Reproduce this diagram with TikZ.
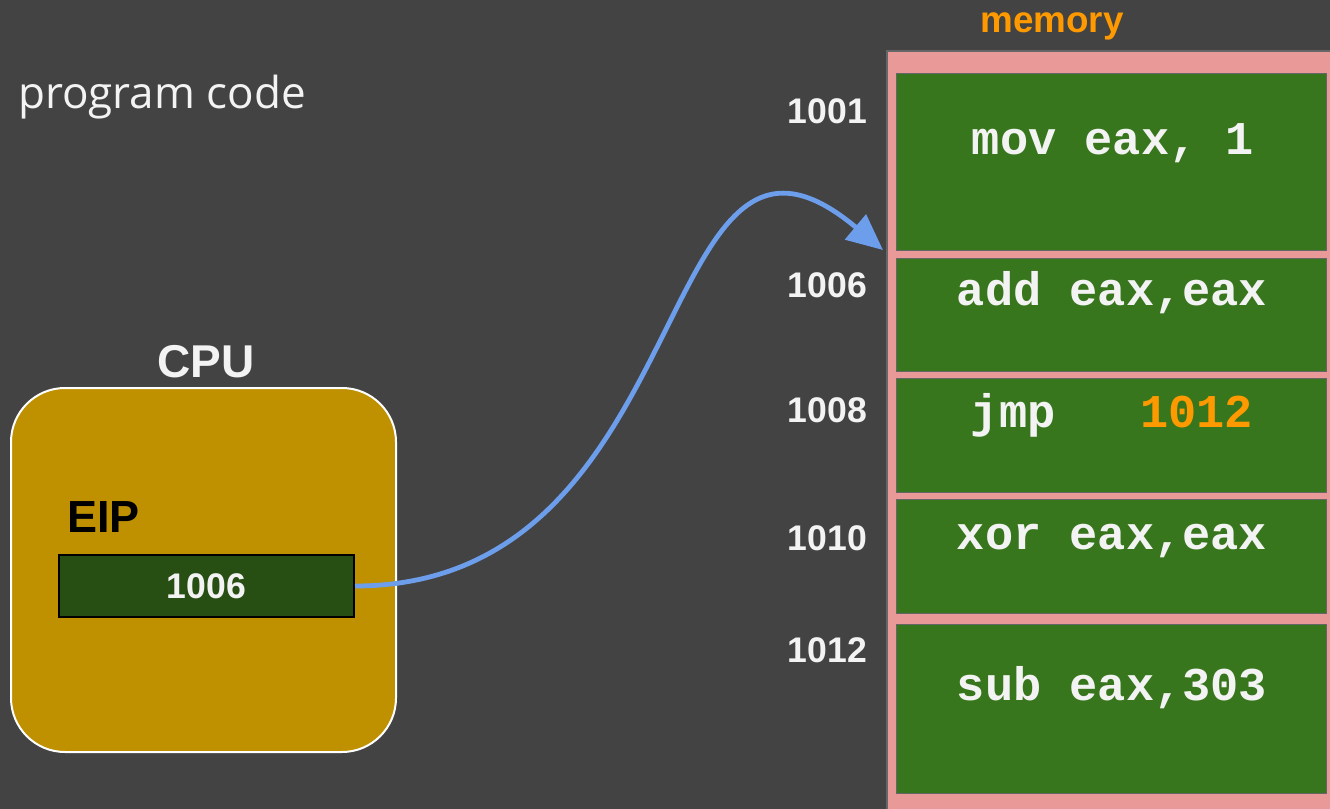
\documentclass[tikz,border=0pt]{standalone}
\usepackage{fontspec}
\setmainfont{Liberation Sans}
\setmonofont{Liberation Mono}
\newfontfamily\handfont{Open Sans}
\usetikzlibrary{arrows.meta}
\definecolor{slidebg}{HTML}{434343}
\definecolor{mempink}{HTML}{EA9999}
\definecolor{cellgreen}{HTML}{38761D}
\definecolor{cpugold}{HTML}{BF9000}
\definecolor{eipgreen}{HTML}{274E13}
\definecolor{memorange}{HTML}{FF9900}
\definecolor{softwhite}{HTML}{F3F3F3}
\definecolor{flowblue}{HTML}{6D9EEB}
\definecolor{edgegray}{HTML}{666666}

\begin{document}
\begin{tikzpicture}[x=0.5pt, y=-0.5pt,
  memcell/.style={draw=edgegray, line width=0.6pt, fill=cellgreen, minimum width=215pt, anchor=north west, inner sep=0pt},
  codetext/.style={text=softwhite, anchor=base, font=\ttfamily\bfseries\fontsize{23.5}{28}\selectfont},
  addr/.style={text=softwhite, anchor=base east, font=\bfseries\fontsize{17.8}{21}\selectfont},
  flow/.style={draw=flowblue, line width=2.4pt, -{Triangle[length=18pt,width=16pt]}}]
\fill[slidebg] (0,0) rectangle (1330,809);
\useasboundingbox (0,0) rectangle (1330,809);
\clip (0,0) rectangle (1330,809);
%
\node[anchor=base west, text=softwhite, font=\handfont\fontsize{22}{26}\selectfont] (title) at (11,108) {program code};
%
\node[anchor=base, text=memorange, font=\bfseries\fontsize{18.4}{22}\selectfont] (memtitle) at (1052,32) {memory};
\node[draw=edgegray, line width=1pt, fill=mempink, minimum width=240pt, minimum height=400pt, anchor=north west, inner sep=0pt] (mem) at (886,50) {};
\node[memcell, minimum height=88.5pt] (c1) at (896,73) {};
\node[memcell, minimum height=56.5pt] (c2) at (896,258) {};
\node[memcell, minimum height=57pt] (c3) at (896,378) {};
\node[memcell, minimum height=57pt] (c4) at (896,499) {};
\node[memcell, minimum height=84.5pt] (c5) at (896,624) {};
%
\node[codetext] (t1) at (1113,154) {mov eax, 1};
\node[codetext] (t2) at (1112,305) {add eax,eax};
\node[codetext] (t3) at (1112,427) {jmp\ \ \ \textcolor{memorange}{1012}};
\node[codetext] (t4) at (1112,549) {xor eax,eax};
\node[codetext] (t5) at (1112,700) {sub eax,303};
%
\node[addr] (a1) at (874,123) {1001};
\node[addr] (a2) at (874,297) {1006};
\node[addr] (a3) at (874,422) {1008};
\node[addr] (a4) at (874,550) {1010};
\node[addr] (a5) at (874,662) {1012};
%
\node[anchor=base, text=softwhite, font=\bfseries\fontsize{23}{27}\selectfont] (cputitle) at (206,377) {CPU};
\node[draw=white, line width=1pt, fill=cpugold, rounded corners=27pt, minimum width=192.5pt, minimum height=182pt, anchor=north west, inner sep=0pt] (cpu) at (10,387) {};
\node[anchor=base west, text=black, font=\bfseries\fontsize{22.5}{27}\selectfont] (eiptitle) at (60,532) {EIP};
\node[draw=black, line width=1pt, fill=eipgreen, minimum width=147.5pt, minimum height=31pt, anchor=north west, inner sep=0pt, text=softwhite, font=\bfseries\fontsize{17.8}{21}\selectfont] (eip) at (58,554) {1006};
%
\coordinate (tip) at (883,250);
\draw[flow] (eip.east) .. controls +(350,0) and +(-233,-195) .. (tip);
\end{tikzpicture}
\end{document}
